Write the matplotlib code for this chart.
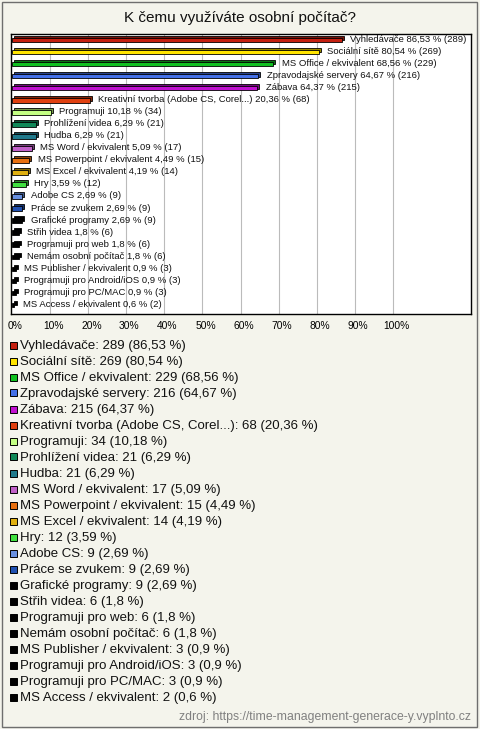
import numpy as np
import matplotlib.pyplot as plt
from matplotlib.patches import Rectangle
import matplotlib.colors as mcolors

# data
labels = ["Vyhledávače", "Sociální sítě", "MS Office / ekvivalent",
          "Zpravodajské servery", "Zábava", "Kreativní tvorba (Adobe CS, Corel...)",
          "Programuji", "Prohlížení videa", "Hudba", "MS Word / ekvivalent",
          "MS Powerpoint / ekvivalent", "MS Excel / ekvivalent", "Hry", "Adobe CS",
          "Práce se zvukem", "Grafické programy", "Střih videa", "Programuji pro web",
          "Nemám osobní počítač", "MS Publisher / ekvivalent",
          "Programuji pro Android/iOS", "Programuji pro PC/MAC", "MS Access / ekvivalent"]
counts = [289, 269, 229, 216, 215, 68, 34, 21, 21, 17, 15, 14, 12, 9, 9, 9, 6, 6, 6, 3, 3, 3, 2]
percents = [86.53, 80.54, 68.56, 64.67, 64.37, 20.36, 10.18, 6.29, 6.29, 5.09,
            4.49, 4.19, 3.59, 2.69, 2.69, 2.69, 1.8, 1.8, 1.8, 0.9, 0.9, 0.9, 0.6]
colors = ["#C42010", "#FFE400", "#10C020", "#4470E8", "#C010D0", "#E04010",
          "#C4FF84", "#108858", "#207A8C", "#C060C8", "#E87010", "#E0B010",
          "#40E040", "#6890E0", "#2050B0"] + ["#000000"] * 8
xticks = list(range(0, 101, 10))

W, H = 480, 729
bg = "#F4F4EC"

def cz(v):
    return str(v).replace(".", ",")

def darker(c, f=0.6):
    r, g, b = mcolors.to_rgb(c)
    return (r * f, g * f, b * f)

fig = plt.figure(figsize=(W / 100, H / 100), dpi=100)
fig.patch.set_facecolor(bg)
plt.rcParams['font.family'] = ['Liberation Sans', 'DejaVu Sans']

# outer frame
fig.patches.append(Rectangle((2 / W, 2 / H), 475 / W, 725 / H, transform=fig.transFigure,
                             fill=False, edgecolor="#6E6E6E", linewidth=1))

fig.text(0.5, 1 - 18 / H, "K čemu využíváte osobní počítač?", ha="center", va="center",
         fontsize=11, color="#111111")

# bar chart area
ax = fig.add_axes([11 / W, 1 - 314 / H, 460 / W, 280 / H])
ax.set_facecolor("white")
n = len(labels)
y = np.arange(n)
xmax = 458 / 3.8
ax.set_xlim(-0.3, xmax)
ax.set_ylim(22.75, -0.5)
for x in xticks[1:]:
    ax.axvline(x, color="#BBBBBB", linewidth=0.8, zorder=0)

h = 0.38
dx, dy = 0.55, 0.16
for i in range(n):
    v = percents[i]
    c = colors[i]
    # depth part of the 3D bar
    ax.barh(y[i] - dy, v, left=dx, height=h, color=darker(c) if c != "#000000" else c,
            edgecolor="black", linewidth=0.6, zorder=2)
    ax.barh(y[i], v, height=h, color=c, edgecolor="black", linewidth=0.6, zorder=3)
    ax.text(v + 2.2, y[i] - 0.05, "%s %s %% (%d)" % (labels[i], cz(v), counts[i]),
            fontsize=6.8, va="center", ha="left", color="#111111", zorder=4)

ax.set_yticks([])
ax.set_xticks([x + 0.8 for x in xticks])
ax.set_xticklabels(["%d%%" % x for x in xticks], fontsize=7.4)
ax.tick_params(axis="x", length=0, pad=5)
for s in ax.spines.values():
    s.set_linewidth(1)
    s.set_color("black")

# legend below
for i in range(n):
    yy = 1 - (346 + 16 * i) / H
    fig.patches.append(Rectangle((10 / W, yy - 2.5 / H), 7 / W, 7 / H, transform=fig.transFigure,
                                 facecolor=colors[i], edgecolor="black", linewidth=0.7))
    fig.text(20 / W, yy, "%s: %d (%s %%)" % (labels[i], counts[i], cz(percents[i])),
             fontsize=9.5, va="center", ha="left", color="#111111")

fig.text(471 / W, 1 - 717 / H, "zdroj: https://time-management-generace-y.vyplnto.cz",
         ha="right", va="center", fontsize=8.8, color="#808080")

fig.savefig("out.png", dpi=100, facecolor=bg)
